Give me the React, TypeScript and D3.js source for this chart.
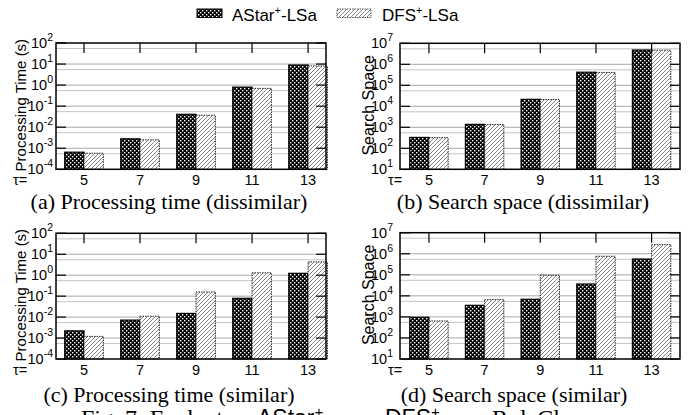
import React from 'react';
import * as d3 from 'd3';

const categories = ['5', '7', '9', '11', '13'];
const astarTimeDissimilar = [6.5e-4, 2.8e-3, 0.041, 0.8, 9.0];
const dfsTimeDissimilar = [5.8e-4, 2.5e-3, 0.037, 0.7, 8.1];
const astarSpaceDissimilar = [330, 1380, 21500, 4.2e5, 4.8e6];
const dfsSpaceDissimilar = [320, 1350, 21000, 4.1e5, 4.7e6];
const astarTimeSimilar = [2.2e-3, 7.2e-3, 0.015, 0.079, 1.23];
const dfsTimeSimilar = [1.2e-3, 0.011, 0.158, 1.3, 4.3];
const astarSpaceSimilar = [960, 3550, 6900, 3.65e4, 5.6e5];
const dfsSpaceSimilar = [640, 6600, 9.5e4, 7.6e5, 2.7e6];
const timeExponents = [-4, -3, -2, -1, 0, 1, 2];
const spaceExponents = [1, 2, 3, 4, 5, 6, 7];
const seriesNames = ['AStar', 'DFS'];

const SANS = "'Liberation Sans', Arial, Helvetica, sans-serif";
const SERIF = "'Liberation Serif', 'Times New Roman', serif";

type PanelProps = {
  x0: number; x1: number; y0: number; y1: number;
  xDomain: [number, number];
  exps: number[];
  a: number[]; b: number[];
  ylabel: string; ylabelX: number; ylabelSize: number;
  tauX: number; tickGap: number;
  caption: string; capX: number; capY: number;
};

function Panel(p: PanelProps) {
  const x = d3.scaleLinear().domain(p.xDomain).range([p.x0, p.x1]);
  const lo = Math.pow(10, p.exps[0]);
  const hi = Math.pow(10, p.exps[p.exps.length - 1]);
  const y = d3.scaleLog().domain([lo, hi]).range([p.y1, p.y0]);
  const bw = 0.345;
  const unit = x(1) - x(0);
  const labY = p.y1 + 12;
  return (
    <g>
      {p.exps.map((e, i) => {
        const yy = y(Math.pow(10, e));
        return (
          <g key={'g' + i}>
            {i > 0 && i < p.exps.length - 1 && (
              <line x1={p.x0} x2={p.x1} y1={yy} y2={yy} stroke="#a8a8a8" strokeWidth={1} />
            )}
            {i > 0 && (
              <line x1={p.x0} x2={p.x1} y1={yy + 5.5} y2={yy + 5.5} stroke="#c4c4c4" strokeWidth={1} />
            )}
          </g>
        );
      })}
      {categories.map((c, i) => {
        const cx = x(i);
        const ya = y(p.a[i]);
        const yb = y(p.b[i]);
        return (
          <g key={'b' + i}>
            <rect x={cx - bw * unit} y={ya} width={bw * unit} height={p.y1 - ya} fill="url(#checker)" stroke="#000" strokeWidth={1.2} />
            <rect x={cx} y={yb} width={bw * unit} height={p.y1 - yb} fill="url(#hatch)" stroke="#222" strokeWidth={1} strokeDasharray="1.5,1" />
          </g>
        );
      })}
      {p.exps.map((e, i) => {
        const yy = y(Math.pow(10, e));
        return (
          <g key={'t' + i}>
            <line x1={p.x0} x2={p.x0 + 10} y1={yy} y2={yy} stroke="#000" strokeWidth={1.2} />
            <line x1={p.x1 - 10} x2={p.x1} y1={yy} y2={yy} stroke="#000" strokeWidth={1.2} />
            <text x={p.x0 - p.tickGap} y={yy + 5} textAnchor="end" fontFamily={SANS} fontSize={14.5} fill="#000">
              <tspan>10</tspan>
              <tspan dy={-7} fontSize={10.5}>{String(e)}</tspan>
            </text>
          </g>
        );
      })}
      {categories.map((c, i) => (
        <g key={'c' + i}>
          <line x1={x(i)} x2={x(i)} y1={p.y0} y2={p.y0 + 10} stroke="#000" strokeWidth={1.2} />
          <text x={x(i)} y={labY} textAnchor="middle" dominantBaseline="middle" fontFamily={SANS} fontSize={14.5} fill="#000">{c}</text>
        </g>
      ))}
      <text x={p.tauX} y={labY} dominantBaseline="middle" fontFamily={SANS} fontSize={14.5} fill="#000">τ=</text>
      <rect x={p.x0} y={p.y0} width={p.x1 - p.x0} height={p.y1 - p.y0} fill="none" stroke="#000" strokeWidth={1.5} />
      <text transform={`translate(${p.ylabelX},${(p.y0 + p.y1) / 2 - 1}) rotate(-90)`} textAnchor="middle" fontFamily={SANS} fontSize={p.ylabelSize} fill="#000">{p.ylabel}</text>
      <text x={p.capX} y={p.capY} textAnchor="middle" fontFamily={SERIF} fontSize={22} fill="#000">{p.caption}</text>
    </g>
  );
}

export default function App() {
  const timeAxis = { xDomain: [-0.5, 4.32] as [number, number], exps: timeExponents, x0: 56, x1: 326, ylabel: 'Processing Time (s)', ylabelX: 26, ylabelSize: 15, tauX: 13, tickGap: 3 };
  const spaceAxis = { xDomain: [-0.52, 4.51] as [number, number], exps: spaceExponents, x0: 400, x1: 680, ylabel: 'Search Space', ylabelX: 374, ylabelSize: 16, tauX: 388, tickGap: 7 };
  return (
    <svg width={699} height={415} style={{ position: 'absolute', left: 0, top: 0, background: '#fff' }}>
      <defs>
        <pattern id="checker" patternUnits="userSpaceOnUse" width={4} height={4}>
          <rect width={4} height={4} fill="#000" />
          <rect x={0} y={0} width={1.4} height={1.4} fill="#fff" />
          <rect x={2} y={2} width={1.4} height={1.4} fill="#fff" />
        </pattern>
        <pattern id="hatch" patternUnits="userSpaceOnUse" width={4} height={4}>
          <rect width={4} height={4} fill="#fff" />
          <path d="M0,4 L4,0 M-1,1 L1,-1 M3,5 L5,3" stroke="#666" strokeWidth={0.8} />
        </pattern>
      </defs>
      <rect width={699} height={415} fill="#fff" />
      {/* legend */}
      <rect x={197} y={9} width={25} height={8.5} fill="url(#checker)" stroke="#000" strokeWidth={1} />
      <text x={232} y={20.5} fontFamily={SANS} fontSize={17} fill="#000">
        <tspan>{seriesNames[0]}</tspan><tspan dy={-7} fontSize={11}>+</tspan><tspan dy={7}>-LSa</tspan>
      </text>
      <rect x={337} y={9} width={34} height={8.5} fill="url(#hatch)" stroke="#555" strokeWidth={1} strokeDasharray="1.5,1" />
      <text x={382} y={20.5} fontFamily={SANS} fontSize={17} fill="#000">
        <tspan>{seriesNames[1]}</tspan><tspan dy={-7} fontSize={11}>+</tspan><tspan dy={7}>-LSa</tspan>
      </text>
      <Panel {...timeAxis} y0={43} y1={169.3} a={astarTimeDissimilar} b={dfsTimeDissimilar} caption="(a) Processing time (dissimilar)" capX={169} capY={209} />
      <Panel {...spaceAxis} y0={43.3} y1={169.3} a={astarSpaceDissimilar} b={dfsSpaceDissimilar} caption="(b) Search space (dissimilar)" capX={523} capY={209} />
      <Panel {...timeAxis} y0={233.3} y1={359} a={astarTimeSimilar} b={dfsTimeSimilar} caption="(c) Processing time (similar)" capX={169} capY={402} />
      <Panel {...spaceAxis} y0={232.7} y1={359} a={astarSpaceSimilar} b={dfsSpaceSimilar} caption="(d) Search space (similar)" capX={514} capY={402} />
      <g fontFamily={SERIF} fontSize={24} fill="#000">
        <text x={81} y={426}>Fig. 7: Evaluate</text>
        <text x={257} y={426} fontFamily={SANS} fontSize={23}>AStar<tspan dy={-9} fontSize={15}>+</tspan></text>
        <text x={338} y={426}>over</text>
        <text x={385} y={426} fontFamily={SANS} fontSize={23}>DFS<tspan dy={-9} fontSize={15}>+</tspan></text>
        <text x={447} y={426}>on</text>
        <text x={492} y={426}>RoleCl</text>
      </g>
    </svg>
  );
}
